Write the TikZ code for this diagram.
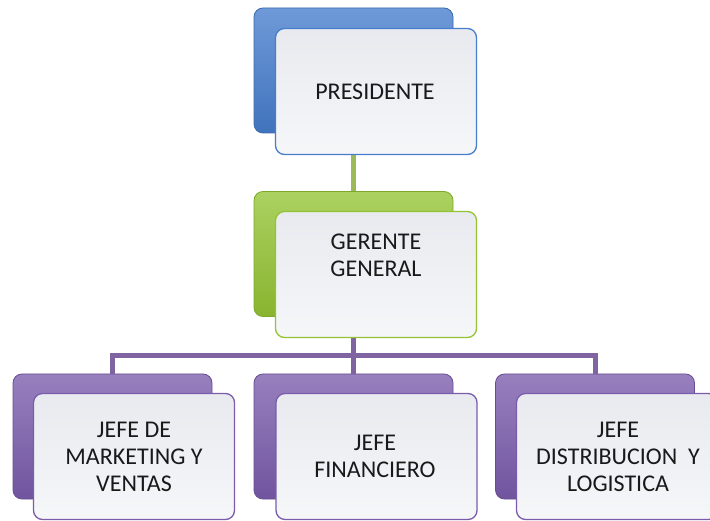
\documentclass[tikz,border=0pt]{standalone}
\usepackage{fontspec}
\setmainfont{Carlito}
\usetikzlibrary{positioning}

\definecolor{presblue}{RGB}{70,125,205}
\definecolor{ggreen}{RGB}{148,196,52}
\definecolor{jpurple}{RGB}{122,92,172}
\definecolor{linegreen}{RGB}{155,187,89}
\definecolor{linepurple}{RGB}{128,100,162}
\definecolor{frontgray}{RGB}{232,234,239}

\begin{document}
\begin{tikzpicture}[x=1pt,y=-1pt,
  backbox/.style={rounded corners=9pt,draw=#1!85!black,line width=0.8pt,top color=#1!78!white,bottom color=#1!92!black,minimum width=199pt,minimum height=125pt,inner sep=0pt},
  frontbox/.style={rounded corners=9pt,draw=#1,line width=1.3pt,top color=frontgray,bottom color=frontgray!40!white,minimum width=201pt,minimum height=126pt,inner sep=0pt},
  boxtext/.style={font=\fontsize{24}{27}\selectfont,text=black!90,align=center,inner sep=0pt},
  greenline/.style={draw=linegreen,line width=5pt},
  purpleline/.style={draw=linepurple,line width=5pt}]
\useasboundingbox (0,0) rectangle (710,521);
\clip (0,0) rectangle (710,521);
\fill[white] (0,0) rectangle (710,521);

\node[backbox=presblue] (pres) at (353.5,70.5) {};
\node[backbox=ggreen] (gg) at (353.5,254) {};
\node[backbox=jpurple] (mkt) at (112.5,436.5) {};
\node[backbox=jpurple] (fin) at (353.5,436.5) {};
\node[backbox=jpurple] (dis) at (595,436.5) {};

\coordinate (bus) at (353.5,356);
\draw[greenline] (pres.south) -- (gg.north);
\draw[purpleline] (gg.south) -- (fin.north);
\draw[purpleline] (mkt.north) |- (bus) -| (dis.north);

\node[frontbox=presblue] (presf) at (376,91.5) {};
\node[frontbox=ggreen] (ggf) at (376,274.5) {};
\node[frontbox=jpurple] (mktf) at (134,456.5) {};
\node[frontbox=jpurple] (finf) at (376.5,456.5) {};
\node[frontbox=jpurple] (disf) at (617,456.5) {};

\node[boxtext] (prest) at (375,92) {PRESIDENTE};
\node[boxtext] (ggt) at (376,255) {GERENTE\\GENERAL};
\node[boxtext] (mktt) at (134,457) {JEFE DE\\MARKETING Y\\VENTAS};
\node[boxtext] (fint) at (375,456) {JEFE\\FINANCIERO};
\node[boxtext] (dist) at (618,457) {JEFE\\DISTRIBUCION\ \ Y\\LOGISTICA};
\end{tikzpicture}
\end{document}
